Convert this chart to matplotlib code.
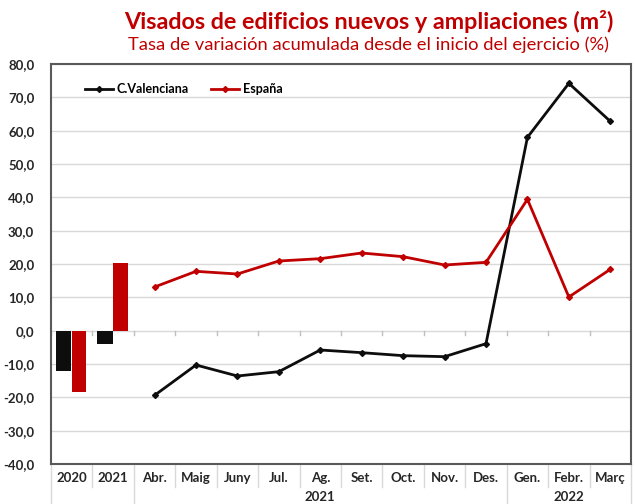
import numpy as np
import matplotlib
matplotlib.use('Agg')
import matplotlib.pyplot as plt
import matplotlib.transforms as mtransforms

plt.rcParams['font.family'] = ['Lato', 'DejaVu Sans']

# datos
categorias = ['2020', '2021', 'Abr.', 'Maig', 'Juny', 'Jul.', 'Ag.', 'Set.',
              'Oct.', 'Nov.', 'Des.', 'Gen.', 'Febr.', 'Març']
anios_grupo = ['2021', '2022']           # etiquetas del segundo nivel
grupo_inicio = [2, 11]                   # indice de la primera categoria de cada grupo
grupo_fin = [10, 13]

barras_cv = [-12.0, -3.9]                # 2020, 2021
barras_esp = [-18.4, 20.4]

meses_cv = [-19.4, -10.3, -13.6, -12.3, -5.8, -6.6, -7.5, -7.8, -3.9, 58.0, 74.2, 62.8]
meses_esp = [13.1, 17.8, 17.0, 20.9, 21.6, 23.3, 22.2, 19.7, 20.5, 39.4, 10.1, 18.4]

rojo = '#C00000'
negro = '#0D0D0D'
gris_txt = '#262626'

fig = plt.figure(figsize=(6.35, 5.04), dpi=100)
ax = fig.add_axes([51/635, 40/504, 580/635, 400/504])

n = len(categorias)
x = np.arange(n)

# barras anuales
xb = x[:2]
ax.bar(xb - 0.20, barras_cv, width=0.38, color=negro, zorder=3)
ax.bar(xb + 0.18, barras_esp, width=0.35, color=rojo, zorder=3)

# lineas mensuales
xm = x[2:]
ax.plot(xm, meses_cv, color=negro, lw=2, marker='D', ms=3, zorder=4, label='C.Valenciana')
ax.plot(xm, meses_esp, color=rojo, lw=2, marker='D', ms=3, zorder=4, label='España')

ax.set_xlim(-0.5, n - 0.5)
ax.set_ylim(-40, 80)
ax.set_yticks(np.arange(-40, 81, 10))
ax.set_yticklabels([f'{v:.1f}'.replace('.', ',') for v in np.arange(-40, 81, 10)],
                   fontsize=9.5, fontweight='bold', color=gris_txt)
ax.tick_params(axis='y', length=0, pad=12)
ax.set_xticks([])
ax.grid(axis='y', color='#D9D9D9', lw=1, zorder=0)
ax.set_axisbelow(True)
for s in ax.spines.values():
    s.set_color('#595959')
    s.set_linewidth(1.5)

# marcas de categoria sobre el eje cero
for b in np.arange(n + 1) - 0.5:
    ax.plot([b, b], [0, -1.3], color='#BFBFBF', lw=1, zorder=1)

# tabla de etiquetas bajo el eje
trans = mtransforms.blended_transform_factory(ax.transData, ax.transAxes)
for i, c in enumerate(categorias):
    ax.text(i, -0.036, c, transform=trans, ha='center', va='center',
            fontsize=9.5, fontweight='bold', color=gris_txt)
for g, a, b in zip(anios_grupo, grupo_inicio, grupo_fin):
    ax.text((a + b) / 2, -0.083, g, transform=trans, ha='center', va='center',
            fontsize=9.5, fontweight='bold', color=gris_txt)

largas = [0, 2, 11, 14]
for i in range(n + 1):
    y1 = -0.1 if i in largas else -0.058
    ax.plot([i - 0.5, i - 0.5], [0, y1], transform=trans, color='#D9D9D9',
            lw=1, clip_on=False)

leg = ax.legend(loc='upper left', bbox_to_anchor=(0.04, 0.98), ncol=2, frameon=False,
                fontsize=9, handlelength=2.2, columnspacing=1.8, handletextpad=0.3)
for t in leg.get_texts():
    t.set_fontweight('bold')

fig.text(0.581, 0.958, 'Visados de edificios nuevos y ampliaciones (m²)',
         ha='center', va='center', fontsize=16.8, fontweight='bold', color=rojo)
fig.text(0.581, 0.911, 'Tasa de variación acumulada desde el inicio del ejercicio (%)',
         ha='center', va='center', fontsize=13.2, color=rojo)

fig.savefig('out.png', dpi=100)
